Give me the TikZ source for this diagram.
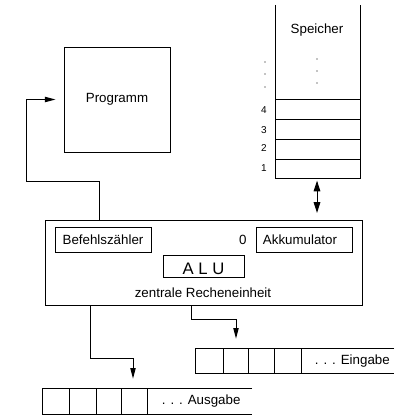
\documentclass[tikz,border=0pt]{standalone}
\usepackage{fontspec}
\setmainfont{Liberation Sans}
\usetikzlibrary{positioning, arrows.meta, calc, fit}

\begin{document}
\begin{tikzpicture}[
      x={(0.75pt,0pt)},  % one pixel to the right
      y={(0pt,-0.75pt)}, % one pixel down
      >={Triangle[length=8pt,width=4pt]},
      font=\fontsize{10}{12}\selectfont,
      line width=0.7pt,
      box/.style={draw, inner sep=0pt},
      conn/.style={->},
      duo/.style={{Triangle[length=8pt,width=5pt]}-{Triangle[length=8pt,width=5pt]}},
      cellnr/.style={font=\fontsize{7.5}{9}\selectfont},
      dot/.style={fill, radius=0.5pt},
    ]
    \useasboundingbox (0,0) rectangle (394,416);

    % ---- Speicher -------------------------------------------------------
    \draw (275,5) -- (275,178) -- (360,178) -- (360,5);
    \foreach \yy in {99,119,139,159}{%
      \draw (275,\yy) -- (360,\yy);
    }
    \node (mem) at (317,30) {Speicher};
    \foreach \n/\yy in {4/110,3/130,2/148,1/168}{%
      \node[cellnr] (nr\n) at (264,\yy) {\n};
    }
    \foreach \yy in {59,71,83} \fill[dot] (317,\yy) circle;
    \foreach \yy in {62,74,87} \fill[dot] (265,\yy) circle;
    \coordinate (membot) at (317,178);

    % ---- Programm -------------------------------------------------------
    \node[box, fit={(64,47) (170,152)}, label=center:Programm] (prog) {};

    % ---- zentrale Recheneinheit -----------------------------------------
    \node[box, fit={(45,220) (362,305)}] (cpu) {};
    \node[box, fit={(55,227) (151,252)}, label=center:Befehlsz\"ahler] (bz) {};
    \node[box, fit={(256,227) (352,252)}, label={[xshift=-3pt]center:Akkumulator}] (akku) {};
    \node[left=3pt of akku] (null) {0};
    \node[box, fit={(163,255) (244,277)},
          label={[font=\fontsize{12.5}{14}\selectfont, yshift=-2pt]center:A L U}] (alu) {};
    \node (cputxt) at (203,293) {zentrale Recheneinheit};

    % ---- Ein- und Ausgabe -----------------------------------------------
    \draw (394,348) -- (195,348) -- (195,373) -- (394,373);
    \foreach \x in {223,248,274,301} \draw (\x,348) -- (\x,373);
    \node[anchor=west] (ein) at (310,361) {. . . Eingabe};

    \draw (252,388) -- (42,388) -- (42,414) -- (252,414);
    \foreach \x in {69,96,121,147} \draw (\x,388) -- (\x,414);
    \node[anchor=west] (aus) at (157,401) {. . . Ausgabe};

    \coordinate (pcout) at (99,220);
    \coordinate (insrc) at (191,305);
    \coordinate (outsrc) at (90,305);
    \coordinate (intape) at (236,348);
    \coordinate (outtape) at (133,388);

    % ---- Verbindungen ---------------------------------------------------
    \draw[conn, shorten >=6pt] (pcout) |- (26,181) |- (prog.west);
    \draw[duo, shorten <=2pt, shorten >=5pt] (membot) -- (membot |- cpu.north);
    \draw[conn, shorten >=7pt] (insrc) |- (236,319) -- (intape);
    \draw[conn, shorten >=7pt] (outsrc) |- (133,358) -- (outtape);
  \end{tikzpicture}
\end{document}
